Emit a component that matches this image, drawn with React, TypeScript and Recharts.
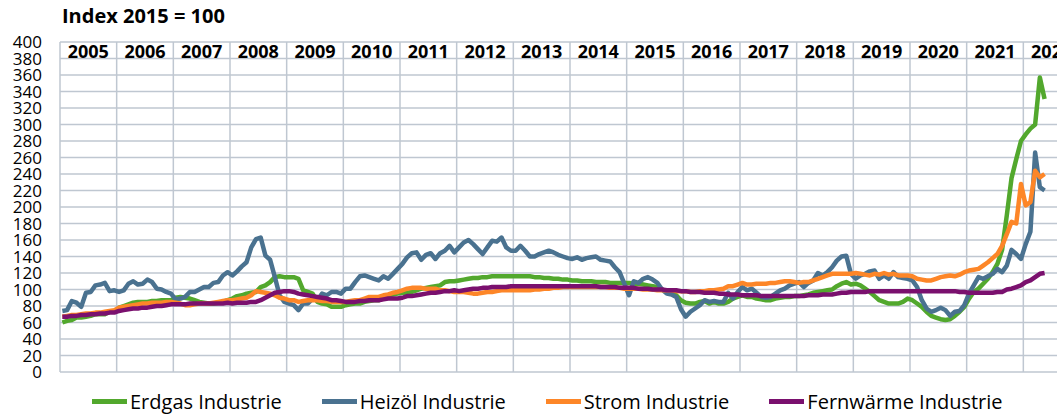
import React from "react";
import { LineChart, Line, XAxis, YAxis, CartesianGrid } from "recharts";

// Monatswerte ab Jan 2005 bis Mai 2022, Index 2015 = 100
const years = [
  "2005", "2006", "2007", "2008", "2009", "2010", "2011", "2012", "2013",
  "2014", "2015", "2016", "2017", "2018", "2019", "2020", "2021", "2022",
];

const erdgas = [
  60, 62, 63, 66, 66, 67, 68, 70, 70, 70, 73, 73,
  78, 80, 82, 84, 85, 85, 85, 86, 86, 87, 87, 87,
  90, 91, 90, 89, 87, 85, 84, 83, 83, 84, 85, 87,
  89, 92, 93, 95, 96, 97, 103, 105, 109, 115, 116, 115,
  115, 115, 113, 99, 97, 95, 85, 83, 82, 79, 79, 79,
  81, 82, 83, 83, 85, 86, 87, 87, 90, 93, 94, 95,
  96, 96, 97, 99, 101, 102, 103, 104, 105, 109, 110, 110,
  111, 112, 113, 114, 114, 115, 115, 116, 116, 116, 116, 116,
  116, 116, 116, 116, 115, 115, 114, 114, 113, 113, 112, 112,
  111, 111, 110, 110, 110, 109, 109, 109, 108, 108, 108, 108,
  108, 107, 107, 106, 105, 104, 103, 100, 97, 96, 93, 87,
  84, 83, 83, 85, 86, 83, 85, 83, 83, 85, 89, 91,
  93, 91, 91, 89, 88, 87, 87, 89, 90, 91, 91, 92,
  92, 93, 94, 96, 97, 98, 99, 100, 104, 107, 109, 106,
  107, 105, 101, 97, 92, 87, 85, 83, 83, 83, 85, 89,
  87, 83, 79, 73, 68, 66, 64, 63, 64, 68, 73, 79,
  89, 97, 101, 107, 113, 121, 131, 148, 190, 235, 258, 280,
  288, 295, 300, 357, 331,
];

const heizoel = [
  74, 75, 86, 84, 79, 96, 97, 105, 106, 108, 98, 99,
  97, 99, 107, 110, 106, 107, 112, 109, 101, 100, 97, 95,
  88, 89, 91, 97, 97, 100, 103, 103, 108, 109, 117, 121,
  117, 122, 128, 133, 151, 161, 163, 141, 136, 115, 93, 85,
  83, 81, 75, 83, 83, 89, 87, 95, 93, 97, 97, 95,
  101, 101, 109, 116, 117, 115, 113, 111, 116, 113, 119, 125,
  131, 139, 144, 145, 136, 142, 144, 137, 144, 147, 153, 145,
  151, 157, 160, 155, 149, 143, 151, 159, 158, 163, 151, 147,
  147, 153, 147, 140, 140, 143, 145, 147, 145, 142, 140, 138,
  137, 139, 136, 138, 139, 140, 136, 135, 134, 127, 121, 107,
  93, 110, 108, 113, 115, 112, 108, 100, 95, 94, 91, 76,
  67, 73, 77, 81, 87, 85, 86, 85, 85, 96, 89, 97,
  103, 99, 101, 96, 91, 90, 91, 95, 99, 101, 105, 107,
  109, 103, 108, 111, 120, 117, 121, 127, 135, 140, 141, 119,
  113, 117, 119, 122, 123, 113, 117, 113, 121, 115, 114, 113,
  111, 103, 87, 77, 73, 75, 78, 75, 68, 73, 74, 81,
  95, 105, 115, 113, 116, 119, 125, 121, 129, 148, 143, 137,
  155, 170, 266, 224, 220,
];

const strom = [
  67, 68, 69, 69, 70, 71, 71, 72, 72, 73, 74, 75,
  78, 79, 80, 81, 82, 83, 83, 84, 84, 84, 85, 85,
  84, 83, 81, 81, 82, 83, 83, 83, 84, 85, 86, 87,
  87, 88, 89, 90, 93, 98, 97, 96, 95, 93, 90, 89,
  87, 87, 85, 86, 87, 87, 87, 86, 86, 85, 85, 85,
  85, 86, 87, 87, 89, 91, 91, 91, 93, 94, 96, 97,
  99, 101, 102, 102, 102, 101, 101, 101, 99, 99, 98, 97,
  97, 97, 96, 95, 95, 96, 97, 97, 98, 99, 99, 99,
  99, 99, 99, 99, 100, 100, 101, 101, 102, 102, 103, 103,
  103, 103, 103, 103, 103, 103, 103, 103, 102, 102, 102, 101,
  101, 101, 101, 100, 100, 100, 99, 99, 99, 99, 98, 98,
  98, 97, 97, 98, 98, 99, 99, 100, 101, 104, 104, 106,
  108, 106, 106, 107, 107, 107, 108, 108, 109, 110, 110, 109,
  108, 109, 109, 111, 113, 115, 117, 119, 119, 119, 119, 119,
  120, 119, 118, 117, 119, 118, 120, 118, 119, 117, 117, 117,
  116, 113, 112, 111, 111, 113, 115, 116, 117, 116, 118, 121,
  123, 124, 125, 129, 133, 138, 143, 153, 167, 182, 180, 228,
  202, 206, 244, 236, 240,
];

const fernwaerme = [
  67, 67, 68, 68, 69, 69, 70, 70, 71, 71, 72, 72,
  74, 75, 76, 77, 77, 78, 78, 79, 80, 80, 81, 82,
  82, 82, 82, 83, 83, 83, 83, 83, 83, 83, 83, 84,
  83, 84, 84, 84, 85, 85, 87, 90, 93, 96, 97, 98,
  98, 97, 95, 94, 93, 92, 91, 90, 89, 87, 87, 86,
  85, 85, 85, 86, 86, 87, 87, 87, 88, 89, 89, 89,
  90, 92, 92, 93, 94, 95, 96, 96, 97, 98, 98, 99,
  98, 99, 100, 101, 101, 102, 102, 103, 103, 103, 103, 104,
  104, 104, 104, 104, 104, 104, 104, 104, 104, 104, 104, 104,
  104, 104, 104, 104, 104, 104, 103, 103, 103, 103, 102, 102,
  102, 102, 101, 101, 101, 100, 100, 100, 99, 99, 99, 98,
  98, 97, 97, 97, 96, 96, 96, 95, 95, 94, 94, 94,
  93, 93, 93, 93, 92, 92, 92, 92, 92, 92, 92, 92,
  92, 92, 93, 93, 93, 94, 94, 94, 95, 96, 96, 97,
  97, 97, 97, 98, 98, 98, 98, 98, 98, 98, 98, 98,
  98, 98, 98, 98, 98, 98, 98, 98, 98, 98, 97, 97,
  96, 96, 96, 96, 96, 96, 97, 97, 100, 101, 103, 105,
  109, 111, 115, 119, 120,
];

const yTicks = [0, 20, 40, 60, 80, 100, 120, 140, 160, 180, 200, 220, 240, 260, 280, 300, 320, 340, 360, 380, 400];

const SERIES = [
  { key: "erdgas", name: "Erdgas Industrie", color: "#52a82d" },
  { key: "heizoel", name: "Heizöl Industrie", color: "#4a7290" },
  { key: "strom", name: "Strom Industrie", color: "#fd8628" },
  { key: "fernwaerme", name: "Fernwärme Industrie", color: "#7a106e" },
];

const data = erdgas.map((v, i) => ({
  t: i + 0.5,
  erdgas: v,
  heizoel: heizoel[i],
  strom: strom[i],
  fernwaerme: fernwaerme[i],
}));

const CHART_W = 1100;
const CHART_H = 414;
const X_AXIS_H = 20;
const MARGIN = { top: 42 - X_AXIS_H, right: 20, bottom: 42, left: 0 };
const Y_AXIS_W = 60;
const YEAR_W = (CHART_W - MARGIN.left - MARGIN.right - Y_AXIS_W) / years.length;
const FONT = "'Open Sans', 'Liberation Sans', sans-serif";
const GRID = "#bfc7d1";

function YearTick(props: any) {
  const { x, y, payload } = props;
  const idx = Math.round(payload.value / 12);
  if (idx >= years.length) return null;
  return (
    <text
      x={x + YEAR_W / 2}
      y={y + 16}
      textAnchor="middle"
      fontFamily={FONT}
      fontWeight="bold"
      fontSize={18}
      fill="#000"
    >
      {years[idx]}
    </text>
  );
}

export default function App() {
  return (
    <div
      style={{
        position: "absolute",
        left: 0,
        top: 0,
        width: 1057,
        height: 414,
        overflow: "hidden",
        background: "#fff",
        fontFamily: FONT,
      }}
    >
      <div
        style={{
          position: "absolute",
          left: 62,
          top: 2,
          fontSize: 20,
          fontWeight: "bold",
          color: "#000",
          whiteSpace: "nowrap",
        }}
      >
        Index 2015 = 100
      </div>
      <LineChart width={CHART_W} height={CHART_H} data={data} margin={MARGIN}>
        <CartesianGrid stroke={GRID} strokeWidth={1.5} />
        <XAxis
          type="number"
          dataKey="t"
          orientation="top"
          domain={[0, years.length * 12]}
          ticks={years.map((_, i) => i * 12).concat(years.length * 12)}
          height={X_AXIS_H}
          axisLine={false}
          tickLine={false}
          tickSize={0}
          tickMargin={0}
          tick={<YearTick />}
          interval={0}
        />
        <YAxis
          type="number"
          domain={[0, 400]}
          ticks={yTicks}
          width={Y_AXIS_W}
          axisLine={false}
          tickLine={false}
          tickSize={0}
          tickMargin={18}
          interval={0}
          tick={{ fontFamily: FONT, fontSize: 17, fill: "#000" }}
        />
        {SERIES.map((s) => (
          <Line
            key={s.key}
            type="linear"
            dataKey={s.key}
            stroke={s.color}
            strokeWidth={4.5}
            dot={false}
            strokeLinejoin="round"
            isAnimationActive={false}
          />
        ))}
      </LineChart>
      <div
        style={{
          position: "absolute",
          left: 92,
          top: 389,
          height: 25,
          display: "flex",
          alignItems: "center",
          fontSize: 20,
          color: "#000",
          whiteSpace: "nowrap",
        }}
      >
        {SERIES.map((s, i) => (
          <div
            key={s.key}
            style={{ display: "flex", alignItems: "center", marginLeft: i === 0 ? 0 : 40 }}
          >
            <div style={{ width: 35, height: 5, background: s.color, marginRight: 3 }} />
            <span>{s.name}</span>
          </div>
        ))}
      </div>
    </div>
  );
}
